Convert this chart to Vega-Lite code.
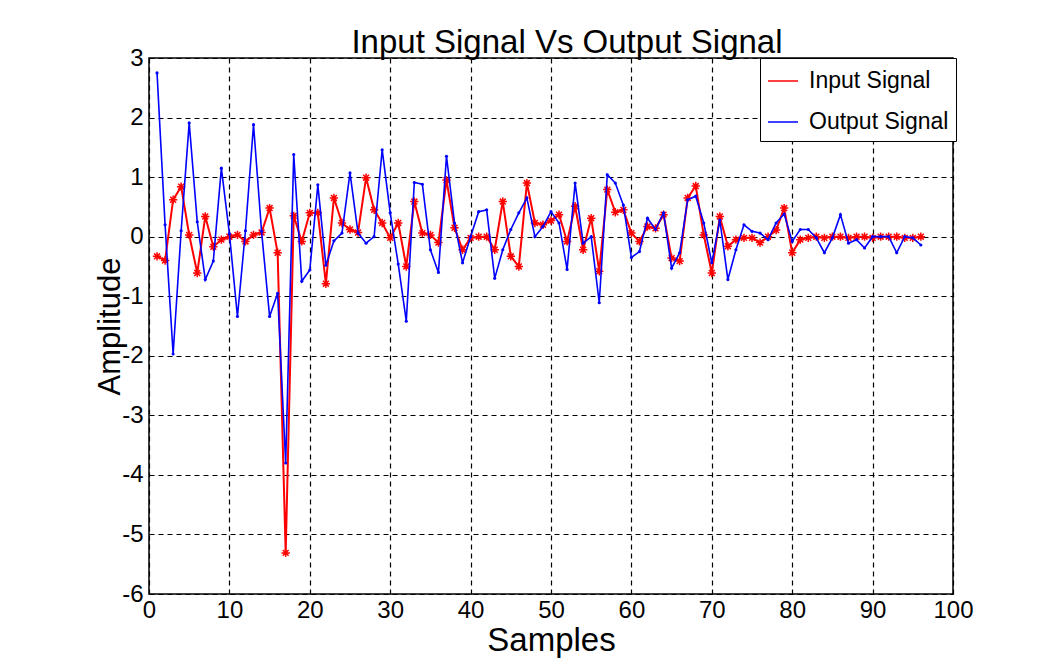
{
  "$schema": "https://vega.github.io/schema/vega-lite/v6.json",
  "autosize": "none",
  "width": 804,
  "height": 536,
  "padding": {"left": 149, "top": 58, "right": 96, "bottom": 72},
  "background": "white",
  "title": {
    "text": "Input Signal Vs Output Signal",
    "font": "Liberation Sans",
    "fontSize": 33,
    "fontWeight": "normal",
    "color": "black",
    "baseline": "alphabetic",
    "offset": 5,
    "dx": 16,
    "dy": 45
  },
  "config": {
    "view": {"stroke": "black", "strokeWidth": 1.5},
    "axis": {
      "labelFont": "Liberation Sans",
      "labelFontSize": 24,
      "labelColor": "black",
      "labelFlush": false,
      "titleFont": "Liberation Sans",
      "titleFontWeight": "normal",
      "titleColor": "black",
      "ticks": false,
      "domain": false,
      "grid": true,
      "gridColor": "black",
      "gridOpacity": 1,
      "gridDash": [5, 4],
      "gridWidth": 1.2,
      "labelExpr": "datum.value + ''"
    },
    "legend": {
      "orient": "none",
      "legendX": 611,
      "legendY": 0,
      "strokeColor": "black",
      "fillColor": "white",
      "padding": 7,
      "rowPadding": 13,
      "labelFont": "Liberation Sans",
      "labelFontSize": 23,
      "labelColor": "black",
      "labelOffset": 10,
      "symbolType": "stroke",
      "symbolSize": 900,
      "symbolStrokeWidth": 1.5,
      "title": null
    }
  },
  "data": {
    "values": [
      {"n": 1, "input": -0.33, "output": 2.75},
      {"n": 2, "input": -0.40, "output": 0.20},
      {"n": 3, "input": 0.62, "output": -1.97},
      {"n": 4, "input": 0.84, "output": 0.10},
      {"n": 5, "input": 0.03, "output": 1.91},
      {"n": 6, "input": -0.61, "output": 0.25},
      {"n": 7, "input": 0.34, "output": -0.72},
      {"n": 8, "input": -0.17, "output": -0.41},
      {"n": 9, "input": -0.05, "output": 1.15},
      {"n": 10, "input": 0.00, "output": 0.05},
      {"n": 11, "input": 0.03, "output": -1.34},
      {"n": 12, "input": -0.08, "output": 0.10},
      {"n": 13, "input": 0.03, "output": 1.88},
      {"n": 14, "input": 0.07, "output": 0.09},
      {"n": 15, "input": 0.48, "output": -1.34},
      {"n": 16, "input": -0.27, "output": -0.95},
      {"n": 17, "input": -5.31, "output": -3.80},
      {"n": 18, "input": 0.35, "output": 1.38},
      {"n": 19, "input": -0.08, "output": -0.75},
      {"n": 20, "input": 0.40, "output": -0.56},
      {"n": 21, "input": 0.40, "output": 0.87},
      {"n": 22, "input": -0.79, "output": -0.48},
      {"n": 23, "input": 0.65, "output": -0.07},
      {"n": 24, "input": 0.23, "output": 0.06},
      {"n": 25, "input": 0.12, "output": 1.07},
      {"n": 26, "input": 0.07, "output": 0.06},
      {"n": 27, "input": 0.99, "output": -0.11},
      {"n": 28, "input": 0.45, "output": 0.00},
      {"n": 29, "input": 0.23, "output": 1.46},
      {"n": 30, "input": -0.02, "output": 0.40},
      {"n": 31, "input": 0.23, "output": -0.46},
      {"n": 32, "input": -0.50, "output": -1.42},
      {"n": 33, "input": 0.59, "output": 0.91},
      {"n": 34, "input": 0.06, "output": 0.88},
      {"n": 35, "input": 0.03, "output": -0.22},
      {"n": 36, "input": -0.10, "output": -0.60},
      {"n": 37, "input": 0.95, "output": 1.35},
      {"n": 38, "input": 0.15, "output": 0.23},
      {"n": 39, "input": -0.22, "output": -0.44},
      {"n": 40, "input": -0.02, "output": 0.00},
      {"n": 41, "input": 0.00, "output": 0.42},
      {"n": 42, "input": 0.00, "output": 0.45},
      {"n": 43, "input": -0.22, "output": -0.70},
      {"n": 44, "input": 0.59, "output": -0.22},
      {"n": 45, "input": -0.33, "output": 0.12},
      {"n": 46, "input": -0.50, "output": 0.40},
      {"n": 47, "input": 0.90, "output": 0.65},
      {"n": 48, "input": 0.23, "output": 0.00},
      {"n": 49, "input": 0.20, "output": 0.17},
      {"n": 50, "input": 0.27, "output": 0.42},
      {"n": 51, "input": 0.37, "output": 0.23},
      {"n": 52, "input": -0.08, "output": -0.55},
      {"n": 53, "input": 0.51, "output": 0.90},
      {"n": 54, "input": -0.22, "output": -0.11},
      {"n": 55, "input": 0.31, "output": 0.00},
      {"n": 56, "input": -0.58, "output": -1.11},
      {"n": 57, "input": 0.79, "output": 1.04},
      {"n": 58, "input": 0.41, "output": 0.90},
      {"n": 59, "input": 0.45, "output": 0.53},
      {"n": 60, "input": 0.06, "output": -0.35},
      {"n": 61, "input": -0.08, "output": -0.25},
      {"n": 62, "input": 0.17, "output": 0.31},
      {"n": 63, "input": 0.14, "output": 0.12},
      {"n": 64, "input": 0.37, "output": 0.40},
      {"n": 65, "input": -0.36, "output": -0.53},
      {"n": 66, "input": -0.41, "output": -0.27},
      {"n": 67, "input": 0.65, "output": 0.62},
      {"n": 68, "input": 0.85, "output": 0.68},
      {"n": 69, "input": 0.03, "output": 0.23},
      {"n": 70, "input": -0.61, "output": -0.44},
      {"n": 71, "input": 0.34, "output": 0.28},
      {"n": 72, "input": -0.16, "output": -0.72},
      {"n": 73, "input": -0.05, "output": -0.22},
      {"n": 74, "input": -0.02, "output": 0.20},
      {"n": 75, "input": -0.02, "output": 0.09},
      {"n": 76, "input": -0.10, "output": 0.06},
      {"n": 77, "input": 0.00, "output": -0.05},
      {"n": 78, "input": 0.11, "output": 0.23},
      {"n": 79, "input": 0.48, "output": 0.38},
      {"n": 80, "input": -0.27, "output": -0.08},
      {"n": 81, "input": -0.05, "output": 0.12},
      {"n": 82, "input": -0.02, "output": 0.12},
      {"n": 83, "input": 0.00, "output": -0.02},
      {"n": 84, "input": -0.02, "output": -0.27},
      {"n": 85, "input": 0.00, "output": -0.02},
      {"n": 86, "input": 0.00, "output": 0.37},
      {"n": 87, "input": -0.02, "output": -0.11},
      {"n": 88, "input": 0.00, "output": -0.05},
      {"n": 89, "input": 0.00, "output": -0.19},
      {"n": 90, "input": -0.02, "output": 0.00},
      {"n": 91, "input": 0.00, "output": 0.00},
      {"n": 92, "input": 0.00, "output": 0.00},
      {"n": 93, "input": 0.00, "output": -0.27},
      {"n": 94, "input": -0.02, "output": 0.00},
      {"n": 95, "input": -0.02, "output": -0.02},
      {"n": 96, "input": 0.00, "output": -0.14}
    ]
  },
  "transform": [{"fold": ["input", "output"], "as": ["signal", "amp"]}],
  "encoding": {
    "x": {
      "field": "n",
      "type": "quantitative",
      "scale": {"domain": [0, 100], "nice": false},
      "axis": {
        "values": [0, 10, 20, 30, 40, 50, 60, 70, 80, 90, 100],
        "labelPadding": 4,
        "title": "Samples",
        "titleFontSize": 33,
        "titleBaseline": "alphabetic",
        "titleY": 56
      }
    },
    "y": {
      "field": "amp",
      "type": "quantitative",
      "scale": {"domain": [-6, 3], "nice": false},
      "axis": {
        "values": [-6, -5, -4, -3, -2, -1, 0, 1, 2, 3],
        "labelPadding": 6,
        "title": "Amplitude",
        "titleFontSize": 31,
        "titleBaseline": "alphabetic",
        "titleX": -30
      }
    }
  },
  "layer": [
    {
      "transform": [{"filter": "datum.signal === 'input'"}],
      "mark": {"type": "line", "strokeWidth": 2},
      "encoding": {
        "color": {
          "field": "signal",
          "type": "nominal",
          "scale": {"domain": ["input", "output"], "range": ["#ff0000", "#0000ff"]},
          "legend": {"labelExpr": "datum.label === 'input' ? 'Input Signal' : 'Output Signal'"}
        }
      }
    },
    {
      "transform": [{"filter": "datum.signal === 'input'"}],
      "mark": {
        "type": "point",
        "shape": "M-1,0L1,0M0,-1L0,1M-0.7,-0.7L0.7,0.7M-0.7,0.7L0.7,-0.7",
        "filled": false,
        "color": "#ff0000",
        "strokeWidth": 1.5,
        "size": 70,
        "opacity": 1
      }
    },
    {
      "transform": [{"filter": "datum.signal === 'output'"}],
      "mark": {"type": "line", "strokeWidth": 1.6},
      "encoding": {
        "color": {"field": "signal", "type": "nominal"}
      }
    },
    {
      "transform": [{"filter": "datum.signal === 'output'"}],
      "mark": {
        "type": "point",
        "shape": "circle",
        "filled": true,
        "color": "#0000ff",
        "size": 10,
        "opacity": 1
      }
    }
  ]
}
